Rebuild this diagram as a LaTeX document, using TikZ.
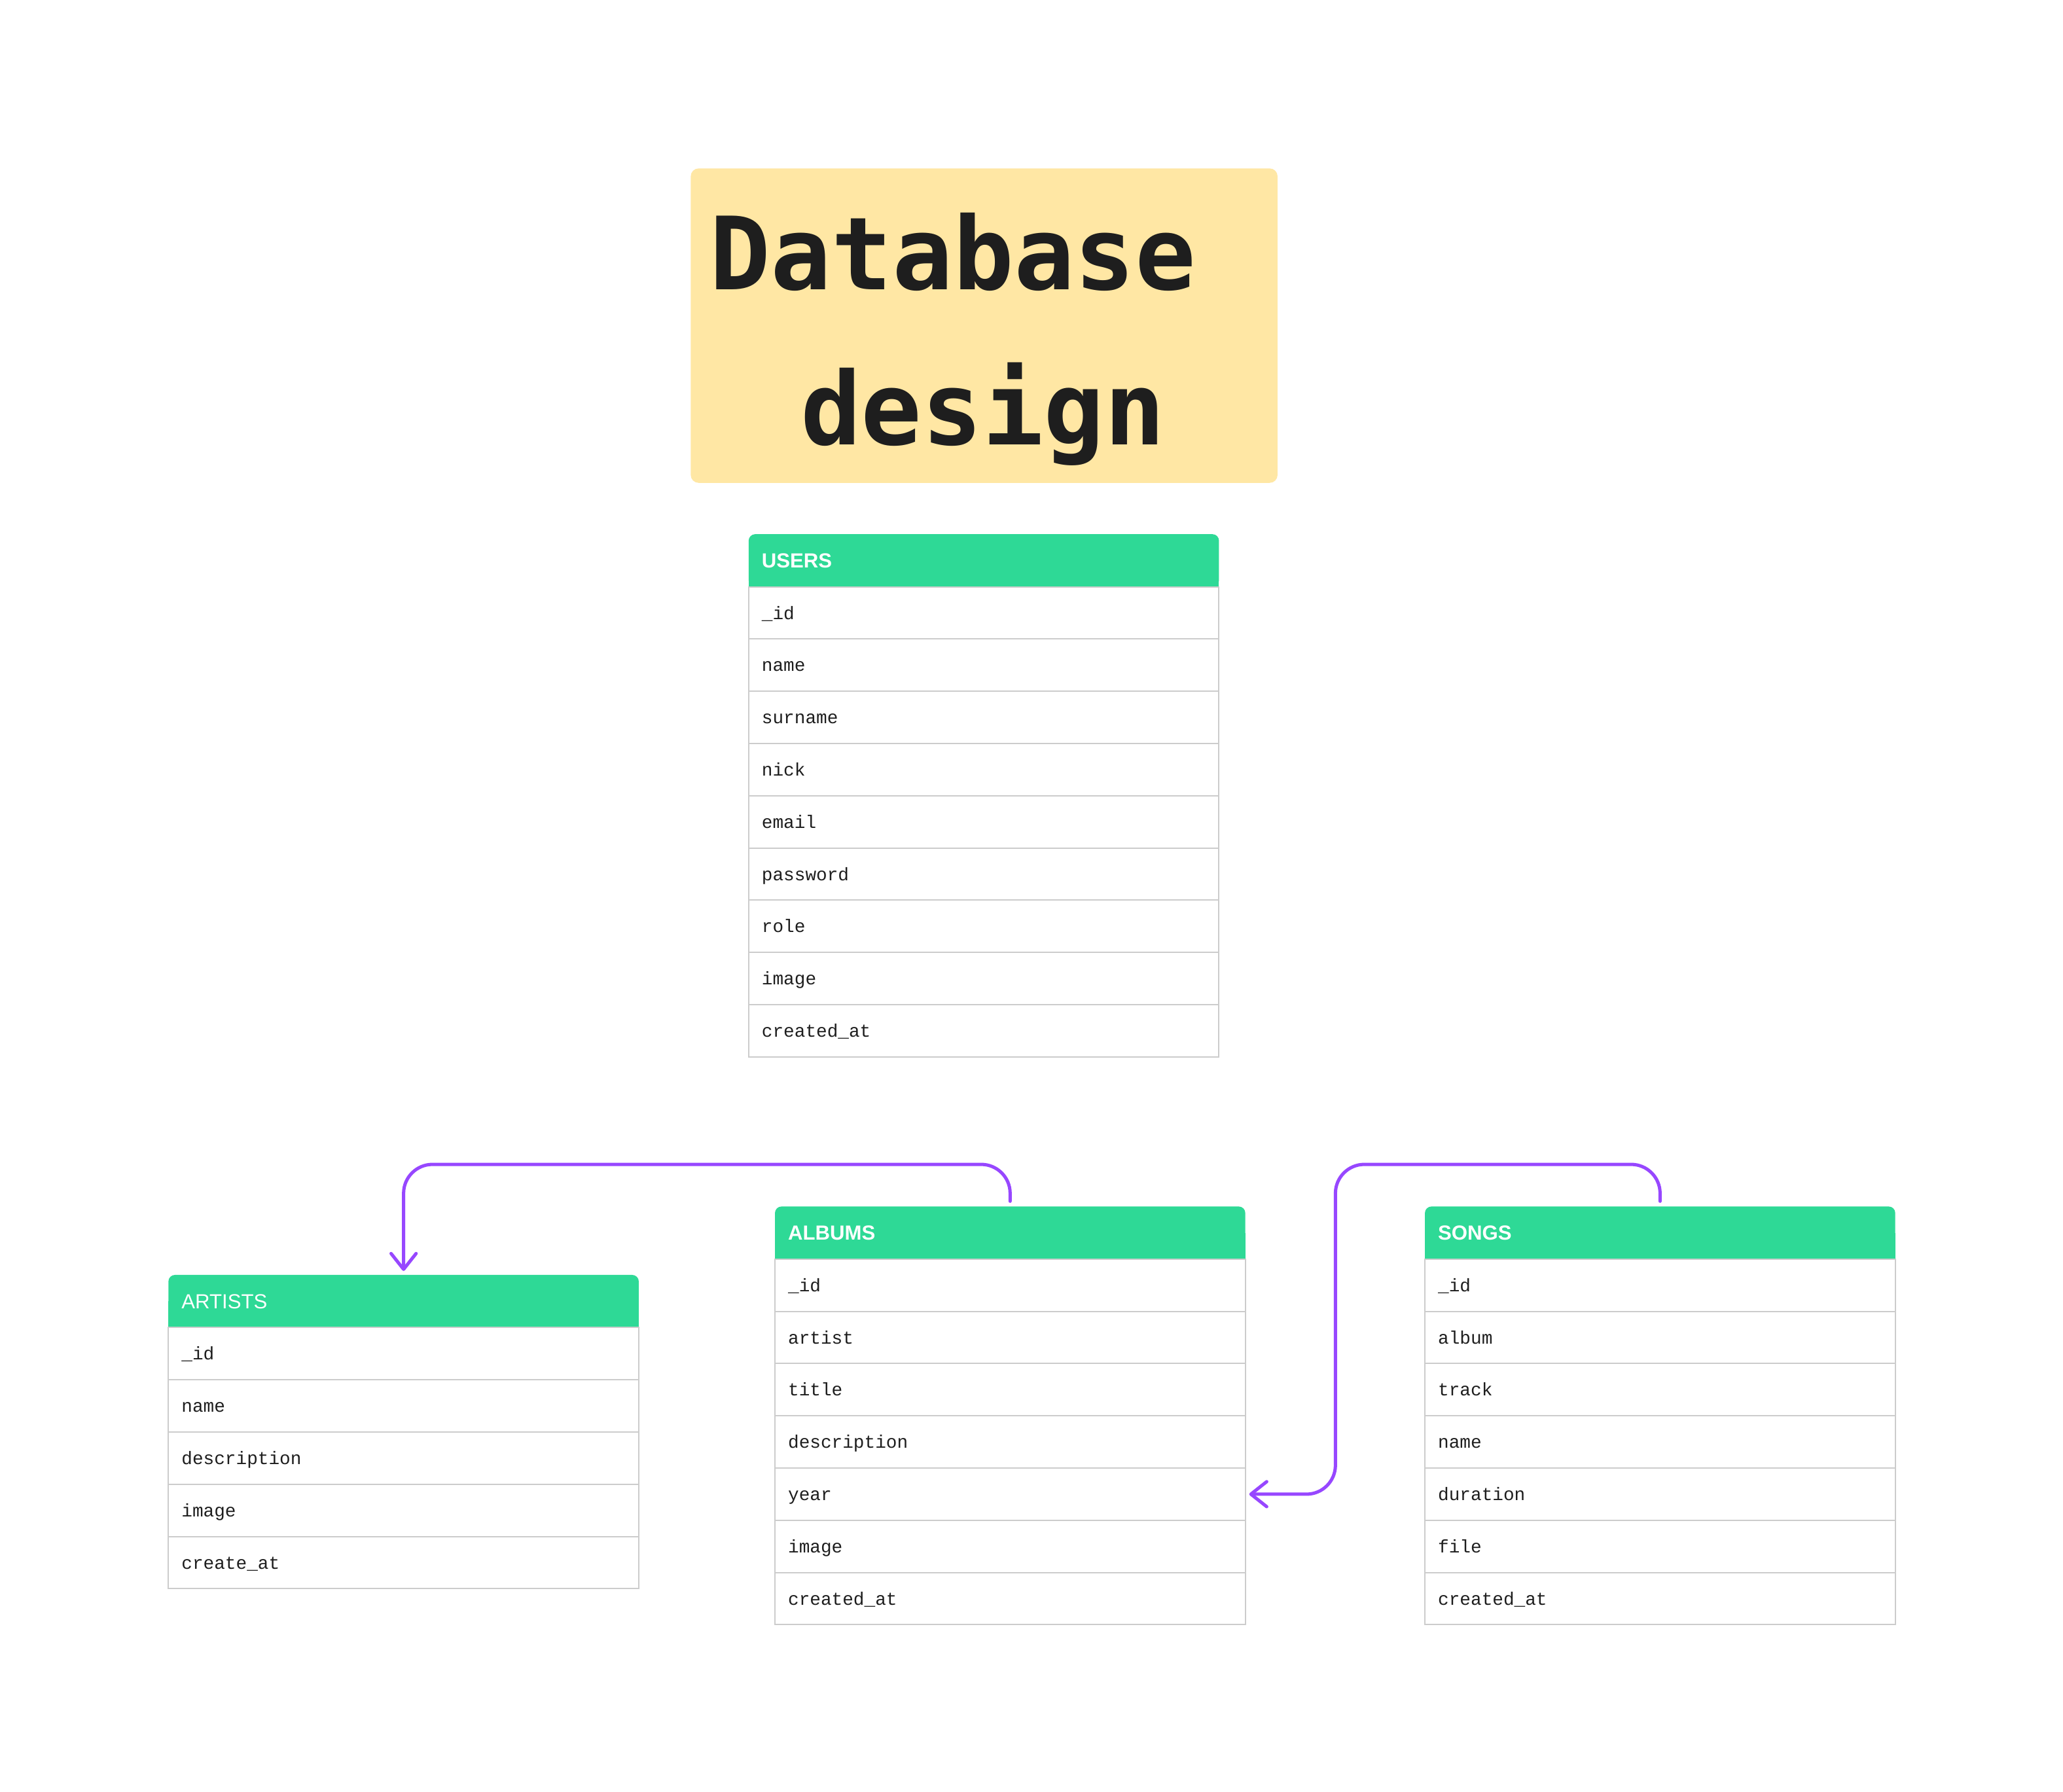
\documentclass[tikz,border=0pt]{standalone}
\usepackage{fontspec}
\setmainfont{Liberation Sans}
\newfontfamily\monofont{Liberation Mono}
\newfontfamily\titlefont{DejaVu Sans Mono}
\usetikzlibrary{arrows.meta}
\definecolor{hdrgreen}{HTML}{2ED996}
\definecolor{gridgray}{HTML}{CCCCCC}
\definecolor{ink}{HTML}{1E1E1E}
\definecolor{linkpurple}{HTML}{9747FF}
\definecolor{titlebg}{HTML}{FFE7A4}
\tikzset{
  tblrow/.style={draw=gridgray, line width=0.5pt, fill=white, anchor=north west,
    minimum height=19.85pt, text width=168.75pt, inner xsep=5pt, inner ysep=0pt,
    align=left, outer sep=0pt, font=\monofont\fontsize{6.9}{8}\selectfont,
    text height=5.4pt, text depth=0.6pt, text=ink},
  tblhdr/.style={fill=hdrgreen, rounded corners=2.5pt, anchor=north west,
    minimum height=20pt, text width=168.75pt, inner xsep=5pt, inner ysep=0pt,
    align=left, outer sep=0pt, text=white, font=\fontsize{7.75}{9}\selectfont,
    text height=5.6pt, text depth=0pt},
  titletext/.style={anchor=base west, inner sep=0pt, text=ink,
    font=\titlefont\bfseries\fontsize{38.4}{44}\selectfont},
  conn/.style={draw=linkpurple, line width=1.25pt, line cap=round, rounded corners=11pt,
    -{Straight Barb[length=6pt,width=9.5pt,round]}}
}
\newcommand\dbtable[5]{%
  \fill[hdrgreen] ({#2},{#3+20}) rectangle ({#2+357.5},{#3+40});
  \node[tblhdr] (#1-h) at ({#2},{#3}) {#4};
  \foreach \f [count=\i] in {#5} {
    \node[tblrow] (#1-\i) at ({#2},{#3+40+(\i-1)*39.7}) {\f};
  }
}
\begin{document}
\begin{tikzpicture}[x=0.5pt,y=-0.5pt]
  \fill[white] (0,0) rectangle (1568,1362);
  \useasboundingbox (0,0) rectangle (1568,1362);
  % title
  \fill[titlebg, rounded corners=3pt] (525,128) rectangle (971,367);
  \node[titletext] (title1) at (539,220) {Database};
  \node[titletext] (title2) at (608,338) {design};
  % tables
  \dbtable{users}{569}{406}{\bfseries USERS}{\_id,name,surname,nick,email,password,role,image,created\_at}
  \dbtable{artists}{128}{969}{ARTISTS}{\_id,name,description,image,create\_at}
  \dbtable{albums}{589}{917}{\bfseries ALBUMS}{\_id,artist,title,description,year,image,created\_at}
  \dbtable{songs}{1083}{917}{\bfseries SONGS}{\_id,album,track,name,duration,file,created\_at}
  % connectors
  \coordinate (bend) at (1015,885);
  \draw[conn] ([yshift=2pt]albums-h.north) -- (albums-h.north |- bend)
    -- (artists-h.north |- bend) -- ([yshift=1.5pt]artists-h.north);
  \draw[conn] ([yshift=2pt]songs-h.north) -- (songs-h.north |- bend)
    -- (bend) -- (bend |- albums-5.east) -- ([xshift=1.5pt]albums-5.east);
\end{tikzpicture}
\end{document}
